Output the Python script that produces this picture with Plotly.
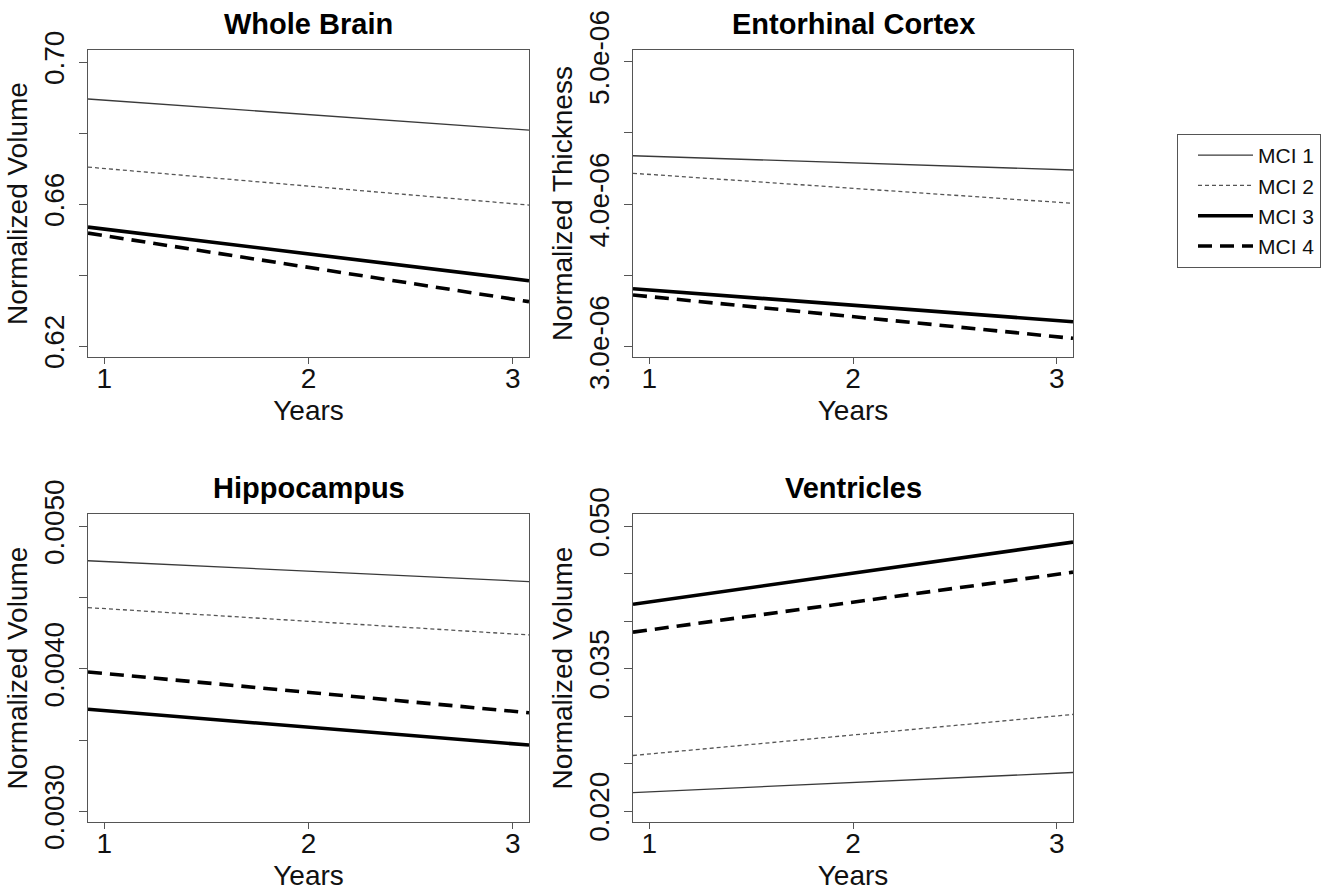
import plotly.graph_objects as go

# ---------------- data ----------------
groups = ["MCI 1", "MCI 2", "MCI 3", "MCI 4"]
years = [0.92, 3.08]

whole_brain = {
    "MCI 1": [0.6896, 0.6808],
    "MCI 2": [0.6704, 0.6597],
    "MCI 3": [0.6535, 0.6384],
    "MCI 4": [0.6518, 0.6325],
}
entorhinal = {
    "MCI 1": [4.340e-06, 4.240e-06],
    "MCI 2": [4.217e-06, 4.006e-06],
    "MCI 3": [3.407e-06, 3.175e-06],
    "MCI 4": [3.363e-06, 3.059e-06],
}
hippocampus = {
    "MCI 1": [0.004759, 0.004613],
    "MCI 2": [0.004430, 0.004238],
    "MCI 3": [0.003716, 0.003465],
    "MCI 4": [0.003978, 0.003692],
}
ventricles = {
    "MCI 1": [0.02194, 0.02406],
    "MCI 2": [0.02585, 0.03018],
    "MCI 3": [0.04180, 0.04835],
    "MCI 4": [0.03885, 0.04518],
}

panel_titles = ["Whole Brain", "Entorhinal Cortex", "Hippocampus", "Ventricles"]
panel_ylabels = ["Normalized Volume", "Normalized Thickness", "Normalized Volume", "Normalized Volume"]
panel_data = [whole_brain, entorhinal, hippocampus, ventricles]

x_ticks = [1, 2, 3]
y_ticks = [
    [0.62, 0.64, 0.66, 0.68, 0.70],
    [3.0e-06, 3.5e-06, 4.0e-06, 4.5e-06, 5.0e-06],
    [0.0030, 0.0035, 0.0040, 0.0045, 0.0050],
    [0.020, 0.025, 0.030, 0.035, 0.040, 0.045, 0.050],
]
y_ticktext = [
    ["0.62", "", "0.66", "", "0.70"],
    ["3.0e-06", "", "4.0e-06", "", "5.0e-06"],
    ["0.0030", "", "0.0040", "", "0.0050"],
    ["0.020", "", "", "0.035", "", "", "0.050"],
]
y_ranges = [
    [0.6169, 0.7034],
    [2.928e-06, 5.082e-06],
    [0.002925, 0.005087],
    [0.01884, 0.05131],
]

# ---------------- styles ----------------
W, H = 1344, 894
line_styles = {
    "MCI 1": dict(color="#3a3a3a", width=1.3, dash="solid"),
    "MCI 2": dict(color="#555555", width=1.3, dash="4px,3px"),
    "MCI 3": dict(color="#000000", width=3.6, dash="solid"),
    "MCI 4": dict(color="#000000", width=3.6, dash="14px,8px"),
}
FONT = "Liberation Sans, Arial, Helvetica, sans-serif"

# pixel boxes of panels: (left, right, top, bottom)
boxes = [(88, 529, 50, 357), (633, 1073, 50, 357), (88, 529, 514, 822), (633, 1073, 514, 822)]

fig = go.Figure()
annotations = []
for i, (data, box) in enumerate(zip(panel_data, boxes)):
    n = i + 1
    xa = "x" if n == 1 else f"x{n}"
    ya = "y" if n == 1 else f"y{n}"
    for g in groups:
        fig.add_trace(go.Scatter(
            x=years, y=data[g], mode="lines", name=g,
            line=line_styles[g], xaxis=xa, yaxis=ya,
            showlegend=(i == 0), hoverinfo="skip",
        ))
    l, r, t, b = box
    axis_common = dict(
        showline=True, mirror=True, linecolor="#555555", linewidth=1,
        ticks="outside", tickcolor="#555555", tickwidth=1,
        showgrid=False, zeroline=False, automargin=False,
        tickfont=dict(family=FONT, size=28, color="#111111"),
    )
    fig.layout[f"xaxis{'' if n == 1 else n}"] = dict(
        domain=[l / W, r / W], anchor=ya, range=[0.92, 3.08],
        tickvals=x_ticks, ticktext=[str(v) for v in x_ticks], ticklen=6,
        ticklabelstandoff=-10,
        title=dict(text="Years", font=dict(family=FONT, size=28, color="#111111"), standoff=7),
        **axis_common,
    )
    fig.layout[f"yaxis{'' if n == 1 else n}"] = dict(
        domain=[1 - b / H, 1 - t / H], anchor=xa, range=y_ranges[i],
        tickvals=y_ticks[i], ticktext=y_ticktext[i], tickangle=-90, ticklen=8,
        ticklabelstandoff=4,
        title=dict(text=panel_ylabels[i], font=dict(family=FONT, size=28, color="#111111"), standoff=2),
        **axis_common,
    )
    annotations.append(dict(
        text=panel_titles[i], x=(l + r) / 2 / W, y=1 - (t - 26) / H,
        xref="paper", yref="paper", xanchor="center", yanchor="middle",
        showarrow=False, font=dict(family=FONT, size=29, color="#000000", weight="bold"),
    ))

fig.update_layout(
    width=W, height=H,
    margin=dict(l=0, r=0, t=0, b=0, autoexpand=False),
    paper_bgcolor="white", plot_bgcolor="white",
    annotations=annotations,
    legend=dict(
        x=1177 / W, y=1 - 134 / H, xanchor="left", yanchor="top",
        bordercolor="#555555", borderwidth=1, bgcolor="white",
        font=dict(family=FONT, size=21, color="#111111"),
        tracegroupgap=0, itemwidth=55, indentation=15, entrywidth=135,
    ),
    showlegend=True,
)

fig.write_html(
    "out.html",
    config={"displayModeBar": False},
    post_script="document.body.style.margin='0px';",
)
